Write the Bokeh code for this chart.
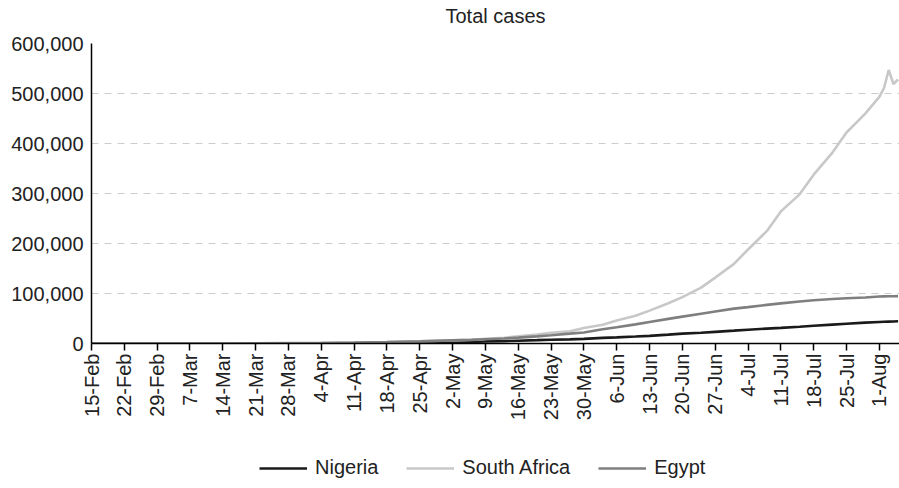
import pandas as pd
from bokeh.plotting import figure
from bokeh.layouts import column
from bokeh.models import (FixedTicker, NumeralTickFormatter, Legend, LegendItem,
                          Range1d, ColumnDataSource, Label)
from bokeh.embed import file_html
from bokeh.resources import INLINE

# ---------------- data ----------------
dates = ["2020-02-15", "2020-02-22", "2020-02-29", "2020-03-07", "2020-03-14",
         "2020-03-21", "2020-03-28", "2020-04-04", "2020-04-11", "2020-04-18",
         "2020-04-25", "2020-05-02", "2020-05-06", "2020-05-09", "2020-05-13",
         "2020-05-16", "2020-05-20", "2020-05-23", "2020-05-27", "2020-05-30",
         "2020-06-03", "2020-06-06", "2020-06-10", "2020-06-13", "2020-06-17",
         "2020-06-20", "2020-06-24", "2020-06-27", "2020-07-01", "2020-07-04",
         "2020-07-08", "2020-07-11", "2020-07-15", "2020-07-18", "2020-07-22",
         "2020-07-25", "2020-07-29", "2020-08-01", "2020-08-02", "2020-08-03",
         "2020-08-04", "2020-08-05"]

nigeria = [0, 0, 1, 1, 2, 22, 97, 214, 318, 542, 1182, 2388, 2950, 4151, 4787,
           5621, 6677, 7526, 8344, 9302, 11166, 12233, 13873, 15181, 17735,
           19808, 21371, 23298, 25694, 27564, 29789, 31323, 33616, 35454, 37801,
           39539, 41804, 43151, 43537, 43841, 44129, 44433]

south_africa = [0, 0, 0, 2, 38, 240, 1187, 1585, 2028, 3034, 4361, 6336, 7572,
                9420, 11350, 14355, 18003, 21343, 24264, 30967, 37525, 45973,
                55421, 65736, 80412, 92681, 111796, 131800, 159333, 187977,
                224665, 264184, 298292, 337594, 381798, 421996, 459761, 493183,
                511000, 547000, 519000, 528000]

egypt = [1, 1, 1, 15, 93, 285, 576, 1070, 1794, 2844, 4319, 6193, 7201, 8476,
         10093, 11719, 14229, 16513, 19666, 22082, 28615, 32612, 38284, 42980,
         49219, 53758, 59561, 63923, 69814, 72711, 77279, 80235, 83930, 86474,
         89078, 90413, 92062, 94078, 94316, 94483, 94640, 94752]

tick_labels = ["15-Feb", "22-Feb", "29-Feb", "7-Mar", "14-Mar", "21-Mar",
               "28-Mar", "4-Apr", "11-Apr", "18-Apr", "25-Apr", "2-May",
               "9-May", "16-May", "23-May", "30-May", "6-Jun", "13-Jun",
               "20-Jun", "27-Jun", "4-Jul", "11-Jul", "18-Jul", "25-Jul", "1-Aug"]

y_ticks = [0, 100000, 200000, 300000, 400000, 500000, 600000]

title_text = "Total cases"
series_names = ["Nigeria", "South Africa", "Egypt"]
series_colors = ["#1a1a1a", "#c8c8c8", "#7f7f7f"]

# ---------------- build ----------------
start = pd.Timestamp(dates[0])
day = [(pd.Timestamp(d) - start).days for d in dates]
tick_pos = [i * 7 for i in range(len(tick_labels))]

src = ColumnDataSource(dict(day=day, nigeria=nigeria,
                            south_africa=south_africa, egypt=egypt))

FONT = "Liberation Sans"
TXT = "#222222"
W = 899


def bare_figure(h):
    f = figure(width=W, height=h, output_backend="svg", toolbar_location=None,
               x_axis_type=None, y_axis_type=None, title=None,
               x_range=Range1d(0, 1), y_range=Range1d(0, 1), min_border=0,
               min_border_left=91)
    f.outline_line_color = None
    f.xgrid.grid_line_color = None
    f.ygrid.grid_line_color = None
    return f


# title strip (frame starts at x=91, aligned with the main chart frame)
tf = bare_figure(30)
tf.add_layout(Label(x=404, y=15, x_units="screen", y_units="screen",
                    text=title_text, text_align="center", text_baseline="middle",
                    text_font=FONT, text_font_size="20px", text_color=TXT))

# main chart
p = figure(width=W, height=416, output_backend="svg", toolbar_location=None,
           title=None,
           x_range=Range1d(0, 172.3), y_range=Range1d(0, 600000),
           min_border_left=91, min_border_right=0, min_border_top=13,
           min_border_bottom=103)
p.outline_line_color = None

p.yaxis.ticker = FixedTicker(ticks=y_ticks)
p.yaxis.formatter = NumeralTickFormatter(format="0,0")
p.yaxis.major_tick_out = 0
p.yaxis.major_tick_in = 0
p.yaxis.minor_tick_out = 0
p.yaxis.minor_tick_in = 0
p.yaxis.major_label_standoff = 8
p.yaxis.axis_line_color = "black"
p.yaxis.axis_line_width = 1.5
p.yaxis.major_label_text_font = FONT
p.yaxis.major_label_text_font_size = "20px"
p.yaxis.major_label_text_color = TXT

p.xaxis.ticker = FixedTicker(ticks=tick_pos)
p.xaxis.major_label_overrides = {t: l for t, l in zip(tick_pos, tick_labels)}
p.xaxis.major_label_orientation = 1.5707963
p.xaxis.major_tick_out = 7
p.xaxis.major_tick_in = 0
p.xaxis.minor_tick_out = 0
p.xaxis.minor_tick_in = 0
p.xaxis.major_tick_line_color = "black"
p.xaxis.major_tick_line_width = 1.5
p.xaxis.major_label_standoff = 3
p.xaxis.axis_line_color = "black"
p.xaxis.axis_line_width = 1.5
p.xaxis.major_label_text_font = FONT
p.xaxis.major_label_text_font_size = "20px"
p.xaxis.major_label_text_color = TXT

p.xgrid.grid_line_color = None
p.ygrid.ticker = FixedTicker(ticks=y_ticks)
p.ygrid.grid_line_color = "#cccccc"
p.ygrid.grid_line_dash = "7 6"
p.ygrid.grid_line_width = 1.2

for key, col in zip(["nigeria", "south_africa", "egypt"], series_colors):
    p.line("day", key, source=src, line_color=col, line_width=2.6)

# legend strip (proxy renderers hold a single NaN point, so nothing is drawn)
lf = bare_figure(42)
items = []
nan = float("nan")
for name, col in zip(series_names, series_colors):
    r = lf.line(x=[nan, nan], y=[nan, nan], line_color=col, line_width=2.6)
    items.append(LegendItem(label=name, renderers=[r]))
legend = Legend(items=items, orientation="horizontal", location=(168, 9))
legend.label_text_font = FONT
legend.label_text_font_size = "20px"
legend.label_text_color = TXT
legend.glyph_width = 48
legend.glyph_height = 20
legend.label_standoff = 8
legend.spacing = 28
legend.border_line_color = None
legend.background_fill_alpha = 0
legend.padding = 0
legend.margin = 0
lf.add_layout(legend, "center")

layout = column(tf, p, lf, spacing=0)
open("out.html", "w").write(file_html(layout, INLINE))
